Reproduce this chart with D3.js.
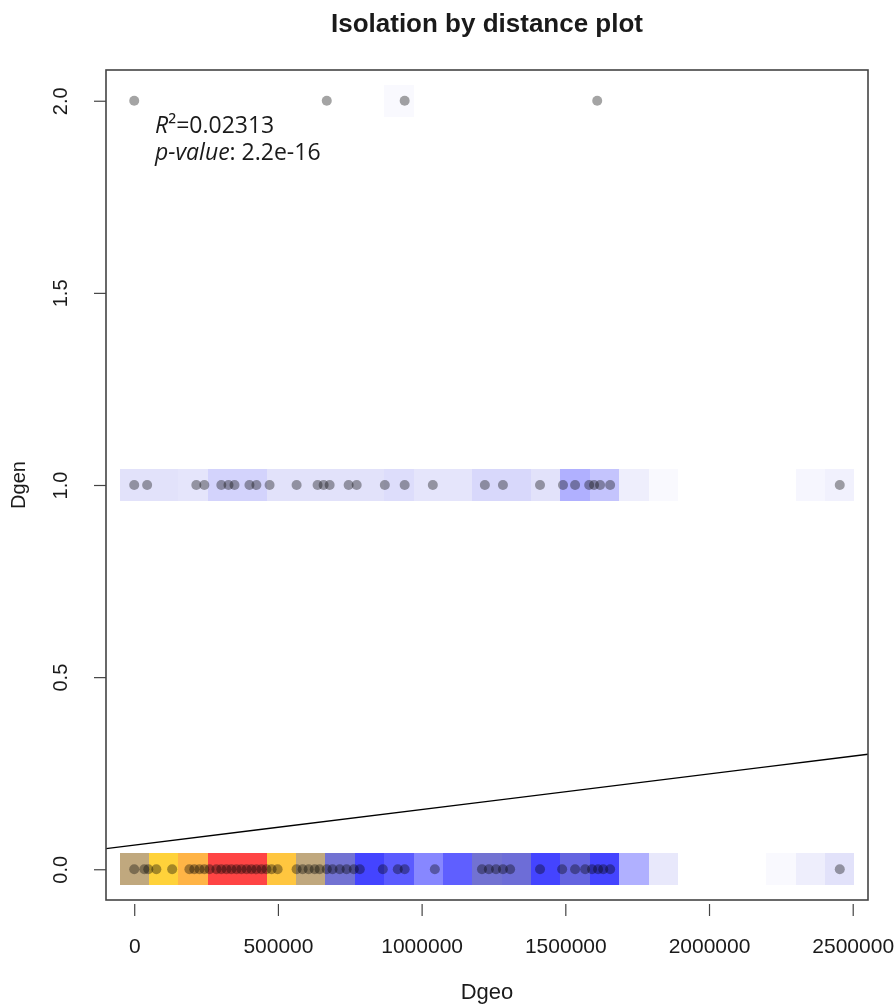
<!DOCTYPE html>
<html lang="en">
<head>
<meta charset="utf-8">
<title>Isolation by distance plot</title>
<script src="https://cdn.jsdelivr.net/npm/d3@7"></script>
<style>
  body { margin: 0; background: #fff; }
  text { font-family: "Liberation Sans", Arial, sans-serif; fill: #1a1a1a; }
</style>
</head>
<body>
<script>
// geographic distance (m) of the pairs, one list per genetic distance level
var dgeoAt0 = [0, 35000, 49000, 77000, 132000, 192000, 209000, 227000, 244000, 262000,
  286000, 303000, 321000, 338000, 356000, 373000, 391000, 408000, 425000, 443000,
  460000, 478000, 499000, 565000, 586000, 607000, 628000, 645000, 670000, 690000,
  715000, 739000, 764000, 785000, 865000, 917000, 941000, 1046000, 1210000, 1234000,
  1259000, 1283000, 1308000, 1412000, 1489000, 1534000, 1569000, 1593000, 1614000,
  1632000, 1656000, 2455000];
var dgeoAt1 = [0, 45000, 216000, 244000, 303000, 328000, 349000, 401000, 425000, 471000,
  565000, 638000, 659000, 680000, 746000, 774000, 872000, 941000, 1039000, 1220000,
  1283000, 1412000, 1492000, 1534000, 1583000, 1600000, 1621000, 1656000, 2455000];
var dgeoAt2 = [0, 670000, 941000, 1611000];
var dgenLevels = [0, 1, 2];

// density of pairs on a 25-column grid over the Dgeo range (0-100), per Dgen row
var densAt0 = [62, 78, 88, 100, 100, 82, 62, 50, 40, 35, 27, 34, 50, 49, 40, 47, 40, 20, 8, 0, 0, 0, 2, 6, 10];
var densAt1 = [10, 10, 9, 13, 13, 10, 10, 10, 10, 11, 9, 9, 12, 12, 10, 20, 16, 6, 2, 0, 0, 0, 0, 3, 5];
var densAt2 = [0, 0, 0, 0, 0, 0, 0, 0, 0, 2, 0, 0, 0, 0, 0, 0, 0, 0, 0, 0, 0, 0, 0, 0, 0];

var xTicks = [0, 500000, 1000000, 1500000, 2000000, 2500000];
var yTicks = [0, 0.5, 1, 1.5, 2];

// linear fit Dgen ~ Dgeo
var fitIntercept = 0.0628;
var fitSlope = 9.26e-8;
var rSquared = "0.02313";
var pValue = "2.2e-16";

var width = 894, height = 1006;
var padL = 106, padR = 868, padT = 70, padB = 900;

var svg = d3.select("body").append("svg")
  .attr("width", width)
  .attr("height", height);

var allX = dgeoAt0.concat(dgeoAt1, dgeoAt2);
var xr = d3.extent(allX);
var xpad = (xr[1] - xr[0]) * 0.04;
var x = d3.scaleLinear().domain([xr[0] - xpad, xr[1] + xpad]).range([padL, padR]);
var yr = d3.extent(dgenLevels);
var ypad = (yr[1] - yr[0]) * 0.04;
var y = d3.scaleLinear().domain([yr[0] - ypad, yr[1] + ypad]).range([padB, padT]);

var colour = d3.scaleLinear()
  .domain([0, 10, 20, 33, 40, 50, 62, 78, 88, 100])
  .range(["#ffffff", "#e2e2fa", "#b0b0ff", "#6464ff", "#4444ff", "#7272d2",
          "#c0a87e", "#ffd23a", "#ffb446", "#ff4444"]);

// grid cells
var nCol = densAt0.length;
var stepX = (xr[1] - xr[0]) / (nCol - 1);
var stepY = (yr[1] - yr[0]) / (nCol - 1);
var cells = [];
[densAt0, densAt1, densAt2].forEach(function(row, r) {
  row.forEach(function(v, i) {
    if (v > 0) cells.push({ cx: xr[0] + i * stepX, cy: dgenLevels[r], v: v });
  });
});

svg.append("g").selectAll("rect")
  .data(cells)
  .enter()
  .append("rect")
  .attr("x", function(d) { return x(d.cx - stepX / 2); })
  .attr("width", function(d) { return x(d.cx + stepX / 2) - x(d.cx - stepX / 2); })
  .attr("y", function(d) { return y(d.cy + stepY / 2); })
  .attr("height", function(d) { return y(d.cy - stepY / 2) - y(d.cy + stepY / 2); })
  .attr("fill", function(d) { return colour(d.v); })
  .attr("shape-rendering", "crispEdges");

// points (darkened by the cell colour underneath)
var pts = [];
[dgeoAt0, dgeoAt1, dgeoAt2].forEach(function(list, r) {
  list.forEach(function(v) { pts.push({ dgeo: v, dgen: dgenLevels[r] }); });
});

svg.append("g").selectAll("circle")
  .data(pts)
  .enter()
  .append("circle")
  .attr("cx", function(d) { return x(d.dgeo); })
  .attr("cy", function(d) { return y(d.dgen); })
  .attr("r", 5)
  .attr("fill", "#a4a4a4")
  .style("mix-blend-mode", "multiply");

// regression line, clipped to the plot region
svg.append("clipPath").attr("id", "plotclip")
  .append("rect")
  .attr("x", padL).attr("y", padT)
  .attr("width", padR - padL).attr("height", padB - padT);

var xd = x.domain();
svg.append("line")
  .attr("clip-path", "url(#plotclip)")
  .attr("x1", x(xd[0])).attr("y1", y(fitIntercept + fitSlope * xd[0]))
  .attr("x2", x(xd[1])).attr("y2", y(fitIntercept + fitSlope * xd[1]))
  .attr("stroke", "#000")
  .attr("stroke-width", 1.4);

// box
svg.append("rect")
  .attr("x", padL).attr("y", padT)
  .attr("width", padR - padL).attr("height", padB - padT)
  .attr("fill", "none")
  .attr("stroke", "#444")
  .attr("stroke-width", 1.6);

// x axis
var gx = svg.append("g")
  .attr("transform", "translate(0," + padB + ")")
  .call(d3.axisBottom(x).tickValues(xTicks).tickFormat(d3.format("d")).tickSize(16).tickPadding(22));
gx.select(".domain").remove();
gx.selectAll(".tick line").attr("y1", 4).attr("stroke", "#444").attr("stroke-width", 1.2);
gx.selectAll(".tick text").style("font-size", "21px").attr("fill", "#1a1a1a");

// y axis
var gy = svg.append("g")
  .attr("transform", "translate(" + padL + ",0)")
  .call(d3.axisLeft(y).tickValues(yTicks).tickFormat(d3.format(".1f")).tickSize(12));
gy.select(".domain").remove();
gy.selectAll(".tick line").attr("stroke", "#444").attr("stroke-width", 1.2);
gy.selectAll(".tick text")
  .attr("x", 0).attr("dy", "0.36em")
  .attr("text-anchor", "middle")
  .attr("transform", "translate(-46,0) rotate(-90)")
  .style("font-size", "20px")
  .attr("fill", "#1a1a1a");

// titles
svg.append("text")
  .attr("x", (padL + padR) / 2).attr("y", 32)
  .attr("text-anchor", "middle")
  .style("font-size", "26px").style("font-weight", "bold")
  .text("Isolation by distance plot");

svg.append("text")
  .attr("x", (padL + padR) / 2).attr("y", 999)
  .attr("text-anchor", "middle")
  .style("font-size", "22px")
  .text("Dgeo");

svg.append("text")
  .attr("transform", "translate(25," + (padT + padB) / 2 + ") rotate(-90)")
  .attr("text-anchor", "middle")
  .style("font-size", "20px")
  .text("Dgen");

// fit annotation
var t1 = svg.append("text").attr("x", 155).attr("y", 133).style("font-size", "23px")
  .style("font-family", "'Open Sans', sans-serif");
t1.append("tspan").style("font-style", "italic").text("R");
t1.append("tspan").text("\u00b2=" + rSquared);
var t2 = svg.append("text").attr("x", 155).attr("y", 160).style("font-size", "23px")
  .style("font-family", "'Open Sans', sans-serif");
t2.append("tspan").style("font-style", "italic").text("p-value");
t2.append("tspan").text(": " + pValue);
</script>
</body>
</html>
